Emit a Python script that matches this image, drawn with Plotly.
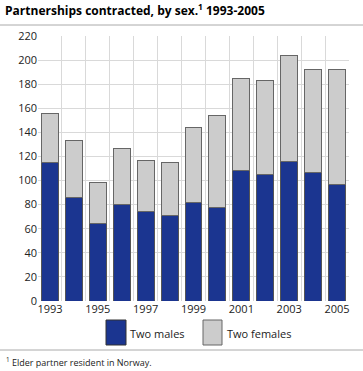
import plotly.graph_objects as go

years = [1993, 1994, 1995, 1996, 1997, 1998, 1999, 2000, 2001, 2002, 2003, 2004, 2005]
two_males = [115, 86, 64, 80, 74, 71, 82, 78, 108, 105, 116, 107, 97]
totals = [156, 133, 98, 127, 117, 115, 144, 154, 185, 183, 204, 192, 192]
two_females = [t - m for t, m in zip(totals, two_males)]
x_tick_labels = ["1993", "1995", "1997", "1999", "2001", "2003", "2005"]
y_ticks = list(range(0, 221, 20))

MALE = "#1b3590"
FEMALE = "#cccccc"
FONT = "Open Sans"

fig = go.Figure()
fig.add_trace(go.Bar(x=years, y=two_males, name="Two males", marker=dict(color=MALE, line=dict(color="#555555", width=1)), showlegend=False))
fig.add_trace(go.Bar(x=years, y=two_females, name="Two females", marker=dict(color=FEMALE, line=dict(color="#666666", width=1)), showlegend=False))

# invisible trace to host the grid axis
fig.add_trace(go.Scatter(x=[years[0]], y=[0], xaxis="x2", mode="markers", marker=dict(opacity=0), showlegend=False, hoverinfo="skip"))

rng = [years[0] - 0.5, years[-1] + 0.5]
fig.update_layout(
    width=363, height=371,
    margin=dict(l=38, r=14, t=36, b=70),
    barmode="stack", bargap=0.29,
    plot_bgcolor="white", paper_bgcolor="white",
    font=dict(family=FONT, size=11, color="#222222"),
    xaxis=dict(range=rng, tickvals=[int(v) for v in x_tick_labels], ticktext=x_tick_labels,
               showgrid=False, zeroline=False, showline=False, ticks="", tickfont=dict(size=11)),
    xaxis2=dict(range=rng, overlaying="x", tickvals=[y - 0.5 for y in years] + [years[-1] + 0.5],
                showticklabels=False, showgrid=True, gridcolor="#d9d9d9", gridwidth=1, zeroline=False, ticks=""),
    yaxis=dict(range=[0, 220], tickvals=y_ticks, showgrid=True, gridcolor="#d9d9d9", gridwidth=1,
               zeroline=False, showline=False, ticks="", tickfont=dict(size=11)),
    title=dict(text="<b>Partnerships contracted, by sex.<sup>1</sup> 1993-2005</b>", x=0.014, xanchor="left",
               y=0.982, yanchor="top", font=dict(size=12, family=FONT, color="#000000")),
    showlegend=False,
)

# header / footer rules
fig.add_shape(type="line", xref="paper", yref="paper", x0=-0.2, x1=1.2, y0=(301 - 25) / 265, y1=(301 - 25) / 265,
              line=dict(color="#aaaaaa", width=1))
# legend swatches (manual, large like the reference)
fig.add_shape(type="rect", xref="paper", yref="paper", x0=(106 - 38) / 311, x1=(126 - 38) / 311,
              y0=-(345 - 301) / 265, y1=-(320 - 301) / 265, fillcolor=MALE, line=dict(color="#333333", width=1))
fig.add_shape(type="rect", xref="paper", yref="paper", x0=(203 - 38) / 311, x1=(222 - 38) / 311,
              y0=-(345 - 301) / 265, y1=-(320 - 301) / 265, fillcolor=FEMALE, line=dict(color="#666666", width=1))
fig.add_annotation(text="Two males", xref="paper", yref="paper", x=(128 - 38) / 311, y=-(333 - 301) / 265,
                   xanchor="left", yanchor="middle", showarrow=False, font=dict(size=11))
fig.add_annotation(text="Two females", xref="paper", yref="paper", x=(225 - 38) / 311, y=-(333 - 301) / 265,
                   xanchor="left", yanchor="middle", showarrow=False, font=dict(size=11))
fig.add_shape(type="line", xref="paper", yref="paper", x0=-0.2, x1=1.2, y0=-(350 - 301) / 265, y1=-(350 - 301) / 265,
              line=dict(color="#aaaaaa", width=1))
fig.add_annotation(text="<sup>1</sup> Elder partner resident in Norway.", xref="paper", yref="paper",
                   x=(4 - 38) / 311, y=-(362 - 301) / 265, xanchor="left", yanchor="middle", showarrow=False,
                   font=dict(size=9))

fig.write_html("out.html", config={"displayModeBar": False},
               post_script="document.body.style.margin='0px';")
